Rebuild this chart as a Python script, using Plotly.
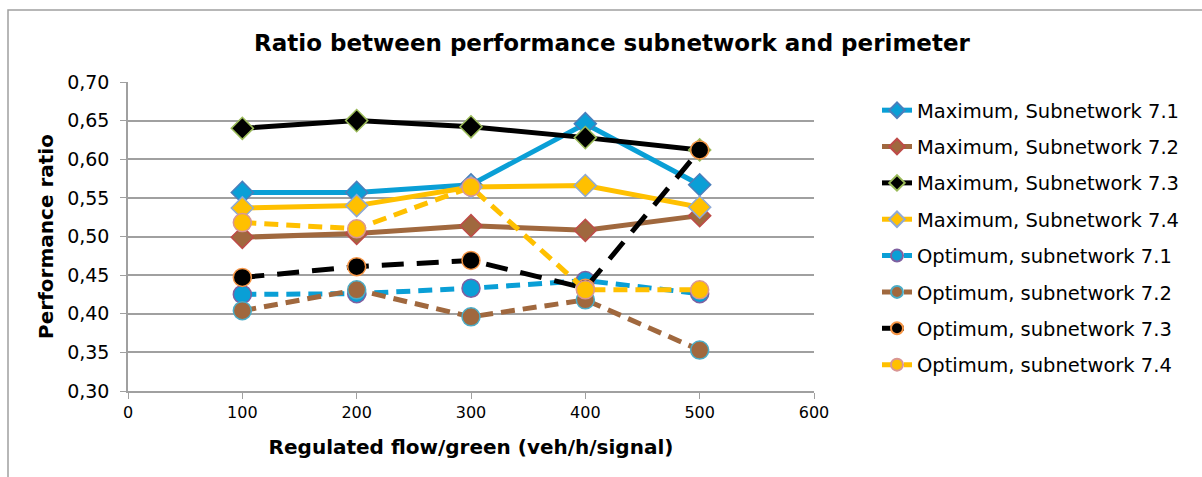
import plotly.graph_objects as go

x_flow = [100, 200, 300, 400, 500]

max_71 = [0.557, 0.557, 0.567, 0.646, 0.567]
max_72 = [0.499, 0.504, 0.514, 0.508, 0.527]
max_73 = [0.640, 0.650, 0.642, 0.628, 0.612]
max_74 = [0.537, 0.540, 0.564, 0.566, 0.538]
opt_71 = [0.425, 0.426, 0.433, 0.443, 0.426]
opt_72 = [0.404, 0.431, 0.396, 0.418, 0.353]
opt_73 = [0.447, 0.461, 0.469, 0.433, 0.612]
opt_74 = [0.518, 0.510, 0.564, 0.431, 0.431]

names = [
    "Maximum, Subnetwork 7.1", "Maximum, Subnetwork 7.2",
    "Maximum, Subnetwork 7.3", "Maximum, Subnetwork 7.4",
    "Optimum, subnetwork 7.1", "Optimum, subnetwork 7.2",
    "Optimum, subnetwork 7.3", "Optimum, subnetwork 7.4",
]

BLUE = "#0A9FD6"
BROWN = "#A0683E"
BLACK = "#000000"
GOLD = "#FFC000"

series = [
    (max_71, BLUE, "#4A7EBB", "diamond", "solid"),
    (max_72, BROWN, "#BE4B48", "diamond", "solid"),
    (max_73, BLACK, "#9BBB59", "diamond", "solid"),
    (max_74, GOLD, "#8EA9D6", "diamond", "solid"),
    (opt_71, BLUE, "#7F60A0", "circle", "14px,8px"),
    (opt_72, BROWN, "#4BACC6", "circle", "14px,8px"),
    (opt_73, BLACK, "#F79646", "circle", "22px,13px"),
    (opt_74, GOLD, "#D99694", "circle", "14px,8px"),
]

FONT = "DejaVu Sans"
fig = go.Figure()
for i, (vals, col, edge, sym, dash) in enumerate(series):
    fig.add_trace(go.Scatter(
        x=x_flow, y=vals, name=names[i], mode="lines+markers",
        legendgroup=f"g{i}",
        line=dict(color=col, width=5, dash=dash),
        marker=dict(symbol=sym, size=17 if sym == "diamond" else 18,
                    color=col, line=dict(color=edge, width=1.5)),
    ))

fig.update_layout(
    width=1202, height=477,
    paper_bgcolor="white", plot_bgcolor="white",
    separators=", ",
    font=dict(family=FONT, size=19, color="#000000"),
    margin=dict(l=128, r=388, t=82, b=86),
    title=dict(text="<b>Ratio between performance subnetwork and perimeter</b>",
               x=612 / 1202, xref="container", xanchor="center",
               y=1 - 43 / 477, yref="container", yanchor="middle",
               font=dict(family=FONT, size=23, color="#000000")),
    legend=dict(x=(877 - 128) / 686, y=(391 - 91) / 309, xanchor="left", yanchor="top",
                tracegroupgap=8, itemsizing="constant",
                font=dict(family=FONT, size=19.5),
                bgcolor="rgba(0,0,0,0)"),
    xaxis=dict(range=[0, 600], dtick=100, tick0=0,
               showgrid=False, zeroline=False,
               showline=True, linecolor="#A0A0A0", linewidth=1.5,
               ticks="outside", ticklen=6, tickcolor="#A0A0A0",
               tickfont=dict(family=FONT, size=16),
               title=dict(text="<b>Regulated flow/green (veh/h/signal)</b>",
                          font=dict(family=FONT, size=20), standoff=19)),
    yaxis=dict(range=[0.30, 0.70], dtick=0.05, tick0=0.30, tickformat=".2f",
               showgrid=True, gridcolor="#A0A0A0", gridwidth=1.5,
               zeroline=False,
               showline=True, linecolor="#A0A0A0", linewidth=1.5,
               ticks="outside", ticklen=6, tickcolor="#A0A0A0",
               ticklabelstandoff=7,
               tickfont=dict(family=FONT, size=19),
               title=dict(text="<b>Performance ratio</b>",
                          font=dict(family=FONT, size=20), standoff=8)),
    showlegend=True,
)

fig.add_shape(type="rect", xref="paper", yref="paper",
              x0=(8 - 128) / 686, x1=(1215 - 128) / 686,
              y0=(391 - 490) / 309, y1=(391 - 10) / 309,
              line=dict(color="#A0A0A0", width=1.5), layer="below")

fig.write_html("out.html", config={"displayModeBar": False},
               post_script="document.body.style.margin='0';document.body.style.overflow='hidden';")
